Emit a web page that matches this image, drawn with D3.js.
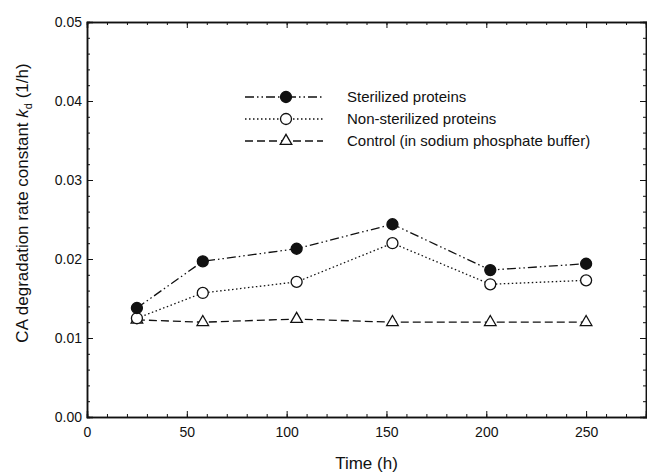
<!DOCTYPE html>
<html>
<head>
<meta charset="utf-8">
<script src="https://cdn.jsdelivr.net/npm/d3@7"></script>
<style>
	body { margin: 0; background: #fff; }
	text { font-family: Arial, "Liberation Sans", sans-serif; fill: #111; }
</style>
</head>
<body>
<div id="chart-area"></div>
<script>
// data
const times = [25, 58, 105, 153, 202, 250]
const sterilized = [0.0138, 0.0197, 0.0213, 0.0244, 0.0186, 0.0194]
const nonSterilized = [0.0125, 0.0157, 0.0171, 0.0220, 0.0168, 0.0173]
const control = [0.0123, 0.0120, 0.0124, 0.0120, 0.0120, 0.0120]
const seriesNames = ["Sterilized proteins", "Non-sterilized proteins", "Control (in sodium phosphate buffer)"]
const xTicks = [0, 50, 100, 150, 200, 250]
const yTicks = [0, 0.01, 0.02, 0.03, 0.04, 0.05]

const MARGIN = { LEFT: 87, RIGHT: 1, TOP: 22, BOTTOM: 58 }
const WIDTH = 647 - MARGIN.LEFT - MARGIN.RIGHT
const HEIGHT = 475 - MARGIN.TOP - MARGIN.BOTTOM

const svg = d3.select("#chart-area").append("svg")
	.attr("width", WIDTH + MARGIN.LEFT + MARGIN.RIGHT)
	.attr("height", HEIGHT + MARGIN.TOP + MARGIN.BOTTOM)

const g = svg.append("g")
	.attr("transform", `translate(${MARGIN.LEFT}, ${MARGIN.TOP})`)

// scales
const x = d3.scaleLinear().domain([0, 280]).range([0, WIDTH])
const y = d3.scaleLinear().domain([0, 0.05]).range([HEIGHT, 0])

const xMinor = d3.range(0, 281, 10)
const yMinor = d3.range(0, 0.0501, 0.002)

// minor ticks, all four sides, pointing inwards
g.append("g")
	.attr("transform", `translate(0, ${HEIGHT})`)
	.call(d3.axisBottom(x).tickValues(xMinor).tickSize(-3).tickFormat(""))
g.append("g")
	.call(d3.axisTop(x).tickValues(xMinor).tickSize(-3).tickFormat(""))
g.append("g")
	.call(d3.axisLeft(y).tickValues(yMinor).tickSize(-3).tickFormat(""))
g.append("g")
	.attr("transform", `translate(${WIDTH}, 0)`)
	.call(d3.axisRight(y).tickValues(yMinor).tickSize(-3).tickFormat(""))

// major ticks
g.append("g")
	.attr("class", "x axis")
	.attr("transform", `translate(0, ${HEIGHT})`)
	.call(d3.axisBottom(x).tickValues(xTicks).tickSize(-6).tickPadding(10))
g.append("g")
	.call(d3.axisTop(x).tickValues(xTicks).tickSize(-6).tickFormat(""))
g.append("g")
	.attr("class", "y axis")
	.call(d3.axisLeft(y).tickValues(yTicks).tickSize(-6).tickPadding(5).tickFormat(d3.format(".2f")))
g.append("g")
	.attr("transform", `translate(${WIDTH}, 0)`)
	.call(d3.axisRight(y).tickValues(yTicks).tickSize(-6).tickFormat(""))

g.selectAll(".domain").attr("stroke", "#111").attr("stroke-width", 1.5)
g.selectAll(".tick line").attr("stroke", "#111").attr("stroke-width", 1)
g.selectAll(".tick text").attr("font-size", "14px").attr("fill", "#111")
	.attr("font-family", "Arial, 'Liberation Sans', sans-serif")

// X label
g.append("text")
	.attr("x", WIDTH / 2)
	.attr("y", HEIGHT + 52)
	.attr("font-size", "17px")
	.attr("text-anchor", "middle")
	.text("Time (h)")

// Y label
const yLabel = svg.append("text")
	.attr("transform", "translate(28, 203) rotate(-90)")
	.attr("font-size", "17px")
	.attr("text-anchor", "middle")
yLabel.append("tspan").text("CA degradation rate constant ")
yLabel.append("tspan").attr("font-style", "italic").text("k")
yLabel.append("tspan").attr("font-size", "11px").attr("dy", 4).text("d")
yLabel.append("tspan").attr("dy", -4).text(" (1/h)")

// series
const series = [
	{ name: seriesNames[0], values: sterilized, dash: "9,3,1.5,3,1.5,3", marker: "filled" },
	{ name: seriesNames[1], values: nonSterilized, dash: "1.5,2.5", marker: "open" },
	{ name: seriesNames[2], values: control, dash: "8,4", marker: "triangle" }
]

const line = d3.line()
	.x(d => x(d.t))
	.y(d => y(d.v))

const triangle = d3.symbol().type(d3.symbolTriangle).size(58)

function drawMarker(sel, kind) {
	if (kind === "triangle") {
		sel.append("path")
			.attr("d", triangle())
			.attr("fill", "#fff")
			.attr("stroke", "#111")
			.attr("stroke-width", 1.3)
	} else {
		sel.append("circle")
			.attr("r", 5.5)
			.attr("fill", kind === "filled" ? "#111" : "#fff")
			.attr("stroke", "#111")
			.attr("stroke-width", 1.3)
	}
}

// draw control first so circles sit on top
series.slice().reverse().forEach(s => {
	const pts = times.map((t, i) => ({ t: t, v: s.values[i] }))
	g.append("path")
		.attr("fill", "none")
		.attr("stroke", "#111")
		.attr("stroke-width", 1.3)
		.attr("stroke-dasharray", s.dash)
		.attr("d", line(pts))
	pts.forEach(p => {
		const m = g.append("g").attr("transform", `translate(${x(p.t)}, ${y(p.v)})`)
		drawMarker(m, s.marker)
	})
})

// legend
const legend = svg.append("g")
	.attr("transform", "translate(245, 97)")

series.forEach((s, i) => {
	const row = legend.append("g").attr("transform", `translate(0, ${i * 22})`)
	row.append("line")
		.attr("x1", 0)
		.attr("x2", 78)
		.attr("stroke", "#111")
		.attr("stroke-width", 1.3)
		.attr("stroke-dasharray", s.dash)
	const m = row.append("g").attr("transform", "translate(41, 0)")
	drawMarker(m, s.marker)
	row.append("text")
		.attr("x", 102)
		.attr("dy", "0.35em")
		.attr("font-size", "15px")
		.text(s.name)
})
</script>
</body>
</html>
